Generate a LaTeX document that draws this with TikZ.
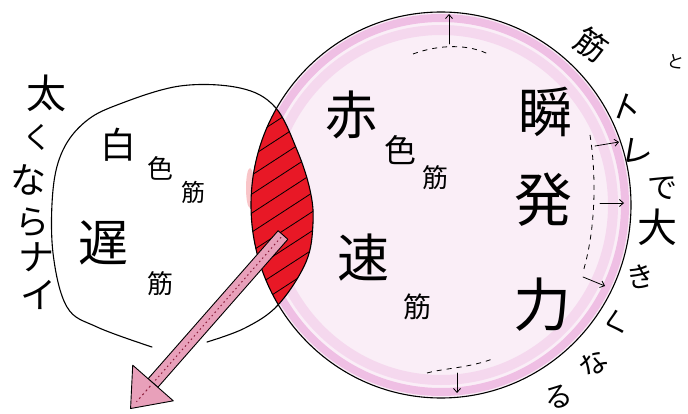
\documentclass[tikz,border=0pt]{standalone}
\usepackage{fontspec}
\newfontfamily\jp{Noto Sans CJK JP}
\usetikzlibrary{arrows.meta,calc}
\definecolor{pinkfill}{RGB}{250,238,247}
\definecolor{pinkring}{RGB}{236,176,222}
\definecolor{lensred}{RGB}{232,24,38}
\definecolor{arrowpink}{RGB}{232,160,186}
\definecolor{arrowdark}{RGB}{140,30,60}
\tikzset{
  jt/.style={inner sep=0pt, font=\jp\fontsize{#1}{#1}\selectfont},
  outline/.style={black, line width=1.1pt, line join=round, line cap=round},
  thinarrow/.style={black, line width=0.8pt, line cap=round, -{Straight Barb[length=4pt,width=7pt]}},
  dashline/.style={black, line width=0.8pt, dash pattern=on 5pt off 5pt},
  leftpath/.style={insert path={plot[smooth cycle, tension=0.6] coordinates {(152,347) (97,327) (67,307) (53,253) (53,190) (63,150) (85,122) (117,105) (180,86) (240,88) (275,107) (297,150) (310,190) (313,223) (306,262) (278,305) (245,328) (207,342)}}},
  pinkpath/.style={insert path={(441,205) ellipse [x radius=190pt, y radius=193pt]}},
}
\begin{document}
\begin{tikzpicture}[x=1pt,y=-1pt]
\useasboundingbox (0,0) rectangle (688,414);
\fill[white] (0,0) rectangle (688,414);

% pink circle (fast muscle)
\fill[pinkfill, pinkpath];
\draw[pinkring, opacity=0.35, line width=10pt] (441,205) ellipse [x radius=172pt, y radius=175pt];
\draw[pinkring, opacity=0.75, line width=8pt] (441,205) ellipse [x radius=184pt, y radius=187pt];

% overlap lens
\fill[lensred, opacity=0.25] (250,188) ellipse [x radius=4pt, y radius=20pt];
\begin{scope}
  \clip[pinkpath];
  \fill[lensred, leftpath];
  \clip[leftpath];
  \foreach \k in {0,...,12} \draw[black, line width=0.8pt] (235,{110+\k*19}) -- ++(100,-65);
\end{scope}

% outlines
\draw[outline] plot[smooth, tension=0.6] coordinates {(207,342) (245,328) (278,305) (306,262) (313,223) (310,190) (297,150) (275,107) (240,88) (180,86) (117,105) (85,122) (63,150) (53,190) (53,253) (67,307) (97,327) (152,347)};
\draw[outline, pinkpath];

% block arrow
\coordinate (S) at (283,235);
\coordinate (B) at (153,383);
\draw[outline, line width=0.9pt, fill=arrowpink] ($(S)!6.5pt!90:(B)$) -- ($(B)!6.5pt!-90:(S)$) -- ($(B)!6.5pt!90:(S)$) -- ($(S)!6.5pt!-90:(B)$) -- cycle;
\draw[arrowdark, line width=1pt, dash pattern=on 1.5pt off 3pt] ($(S)!3pt!(B)$) -- ($(B)!3pt!(S)$);
\draw[outline, line width=0.9pt, fill=arrowpink] ($(B)!27pt!90:(S)$) -- ($(B)!-34pt!(S)$) -- ($(B)!27pt!-90:(S)$) -- cycle;
\draw[arrowdark, line width=1pt, dash pattern=on 2pt off 3pt] ($(B)!-4pt!(S)$) -- ($(B)!-25pt!(S)$);

% dashed growth arrows
\coordinate (t1) at (449,44);
\coordinate (t2) at (449,14);
\draw[thinarrow] (t1) -- (t2);
\draw[dashline] (413,54) .. controls (440,44) and (470,44) .. (490,55);
\coordinate (b1) at (457,373);
\coordinate (b2) at (457,393);
\draw[dashline] (427,373) .. controls (445,368) and (470,368) .. (495,358);
\draw[thinarrow] (b1) -- (b2);
\draw[dashline] (590,135) .. controls (597,180) and (595,232) .. (583,272);
\coordinate (r1a) at (595,146); \coordinate (r1b) at (619,142);
\coordinate (r2a) at (600,203); \coordinate (r2b) at (624,203);
\coordinate (r3a) at (583,277); \coordinate (r3b) at (605,286);
\draw[thinarrow] (r1a) -- (r1b);
\draw[thinarrow] (r2a) -- (r2b);
\draw[thinarrow] (r3a) -- (r3b);

% left circle texts
\node[jt=36] (shiro) at (118,145) {白};
\node[jt=26] (shoku1) at (160,168) {色};
\node[jt=24] (kin1) at (193,192) {筋};
\node[jt=50] (chi) at (103,243) {遅};
\node[jt=26] (kin2) at (160,284) {筋};

% pink circle texts
\node[jt=52] (aka) at (351,115) {赤};
\node[jt=32] (shoku2) at (400,150) {色};
\node[jt=26] (kin3) at (435,178) {筋};
\node[jt=52] (soku) at (363,258) {速};
\node[jt=28] (kin4) at (417,307) {筋};
\node[jt=54] (shun) at (545,112) {瞬};
\node[jt=58] (hatsu) at (543,200) {発};
\node[jt=58] (ryoku) at (542,305) {力};

% left vertical caption
\node[jt=40] (v1) at (47,93) {太};
\node[jt=30] (v2) at (37,137) {く};
\node[jt=36] (v3) at (28,180) {な};
\node[jt=34] (v4) at (33,222) {ら};
\node[jt=36] (v5) at (37,257) {ナ};
\node[jt=36] (v6) at (38,295) {イ};

% right arc caption
\node[jt=32, rotate=-35] (w1) at (592,45) {筋};
\node[jt=32, rotate=-20] (w2) at (627,108) {ト};
\node[jt=32, rotate=-10] (w3) at (637,152) {レ};
\node[jt=30] (w4) at (662,188) {で};
\node[jt=40] (w5) at (657,227) {大};
\node[jt=28, rotate=10] (w6) at (640,277) {き};
\node[jt=28, rotate=15] (w7) at (615,323) {く};
\node[jt=28, rotate=40] (w8) at (593,363) {な};
\node[jt=28, rotate=15] (w9) at (558,397) {る};
\node[jt=17, rotate=-10] (w10) at (676,62) {と};
\end{tikzpicture}
\end{document}
